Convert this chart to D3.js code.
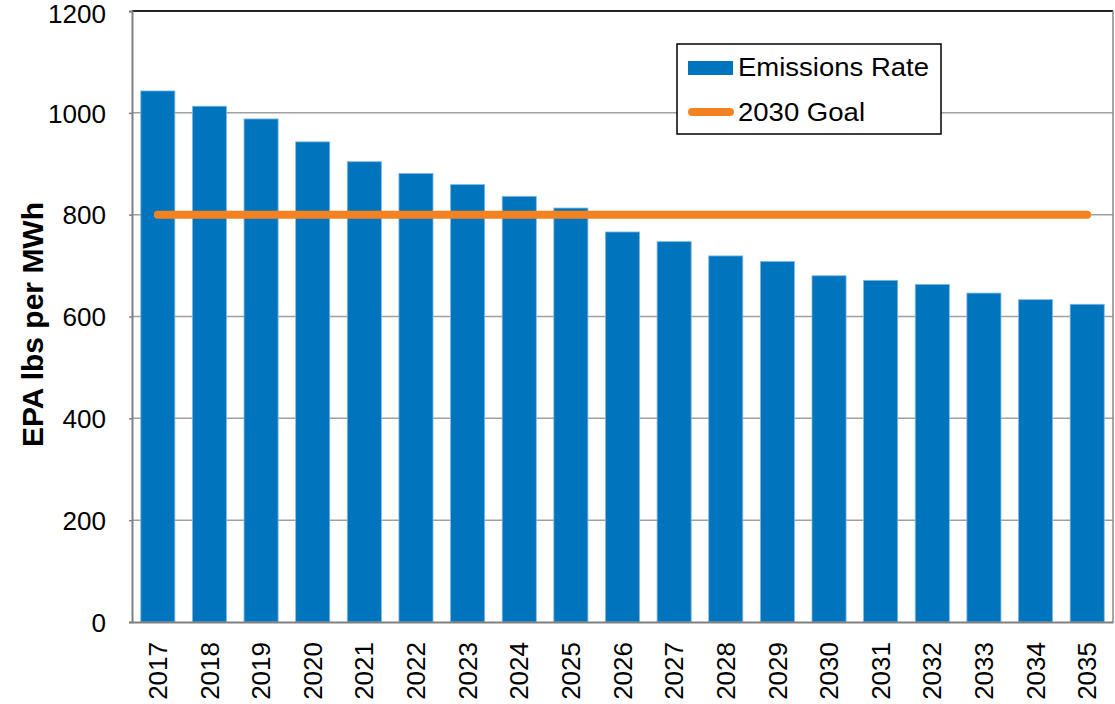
<!DOCTYPE html>
<html><head><meta charset="utf-8">
<script src="https://cdn.jsdelivr.net/npm/d3@7"></script>
<style>body{margin:0;background:#fff}svg{display:block;font-family:Arial,"Liberation Sans",sans-serif}</style>
</head><body><svg id="c" width="1115" height="704"></svg>
<script>
const years = ["2017","2018","2019","2020","2021","2022","2023","2024","2025","2026","2027","2028","2029","2030","2031","2032","2033","2034","2035"];
const emissions = [1043,1013,988,943,904,881,859,836,813,766,747,719,708,680,671,663,646,633,624];
const goalValue = 800;
const yTicks = [0,200,400,600,800,1000,1200];
const legendLabels = ["Emissions Rate","2030 Goal"];
const yTitle = "EPA lbs per MWh";

const svg = d3.select("#c");
const L = 132, R = 1113, T = 11, B = 622;
const x = d3.scaleBand().domain(years).range([L, R]).paddingInner(0.34).paddingOuter(0.17);
const y = d3.scaleLinear().domain([0, 1200]).range([B, T]);

// gridlines
svg.append("g").selectAll("line").data(yTicks.filter(d => d > 0 && d < 1200)).join("line")
  .attr("x1", L).attr("x2", R).attr("y1", d => y(d)).attr("y2", d => y(d))
  .attr("stroke", "#a0a0a0").attr("stroke-width", 1.5);

// bars
svg.append("g").selectAll("rect").data(years).join("rect")
  .attr("x", d => x(d)).attr("width", x.bandwidth())
  .attr("y", (d, i) => y(emissions[i])).attr("height", (d, i) => y(0) - y(emissions[i]))
  .attr("fill", "#0074bd").attr("stroke", "#7fb8e2").attr("stroke-width", 0.8);

// goal line
const gl = d3.line().x(d => x(d) + x.bandwidth() / 2).y(() => y(goalValue));
svg.append("path").datum([years[0], years[years.length - 1]]).attr("d", gl)
  .attr("stroke", "#f58220").attr("stroke-width", 8).attr("stroke-linecap", "round").attr("fill", "none");

// frame
svg.append("line").attr("x1", L).attr("x2", R).attr("y1", y(1200)).attr("y2", y(1200)).attr("stroke", "#222").attr("stroke-width", 2);
svg.append("line").attr("x1", R).attr("x2", R).attr("y1", T).attr("y2", B).attr("stroke", "#888").attr("stroke-width", 1.5);

// axes
const yAxis = d3.axisLeft(y).tickValues(yTicks).tickFormat(d3.format("d")).tickSize(3).tickPadding(23);
const ga = svg.append("g").attr("transform", `translate(${L},0)`).call(yAxis);
ga.select(".domain").attr("stroke", "#808080").attr("stroke-width", 2);
ga.selectAll(".tick line").attr("stroke", "#808080").attr("stroke-width", 1.5);
ga.selectAll("text").attr("font-size", 25).attr("fill", "#000").attr("font-family", "Arial,Liberation Sans,sans-serif")
  .attr("textLength", d => String(d).length * 14.5).attr("lengthAdjust", "spacingAndGlyphs").attr("dy", "0.37em");
ga.selectAll(".tick").filter(d => d === 1200).select("text").attr("dy", "0.45em");

const xAxis = d3.axisBottom(x).tickSize(0).tickPadding(0);
const gx = svg.append("g").attr("transform", `translate(0,${B})`).call(xAxis);
gx.select(".domain").attr("stroke", "#808080").attr("stroke-width", 2);
gx.selectAll("text").attr("font-size", 26).attr("fill", "#000").attr("font-family", "Arial,Liberation Sans,sans-serif")
  .attr("text-anchor", "end").attr("transform", "translate(0,20) rotate(-90)").attr("x", 0).attr("y", 0).attr("dy", "0.35em");

// y title
svg.append("text").attr("transform", `translate(43,${(T + B) / 2 + 8}) rotate(-90)`)
  .attr("text-anchor", "middle").attr("font-size", 30).attr("font-weight", "bold").text(yTitle);

// legend
const lg = svg.append("g");
lg.append("rect").attr("x", 677).attr("y", 44).attr("width", 264).attr("height", 90).attr("fill", "#fff").attr("stroke", "#000").attr("stroke-width", 1.5);
lg.append("rect").attr("x", 688).attr("y", 61).attr("width", 45).attr("height", 14).attr("fill", "#0074bd");
lg.append("line").attr("x1", 692).attr("x2", 730).attr("y1", 112).attr("y2", 112).attr("stroke", "#f58220").attr("stroke-width", 8).attr("stroke-linecap", "round");
const legendLens = [191, 127];
lg.selectAll("text.l").data(legendLabels).join("text").attr("class", "l")
  .attr("x", 738).attr("y", (d, i) => 76 + i * 45).attr("font-size", 25)
  .attr("textLength", (d, i) => legendLens[i]).attr("lengthAdjust", "spacingAndGlyphs").text(d => d);
</script></body></html>
